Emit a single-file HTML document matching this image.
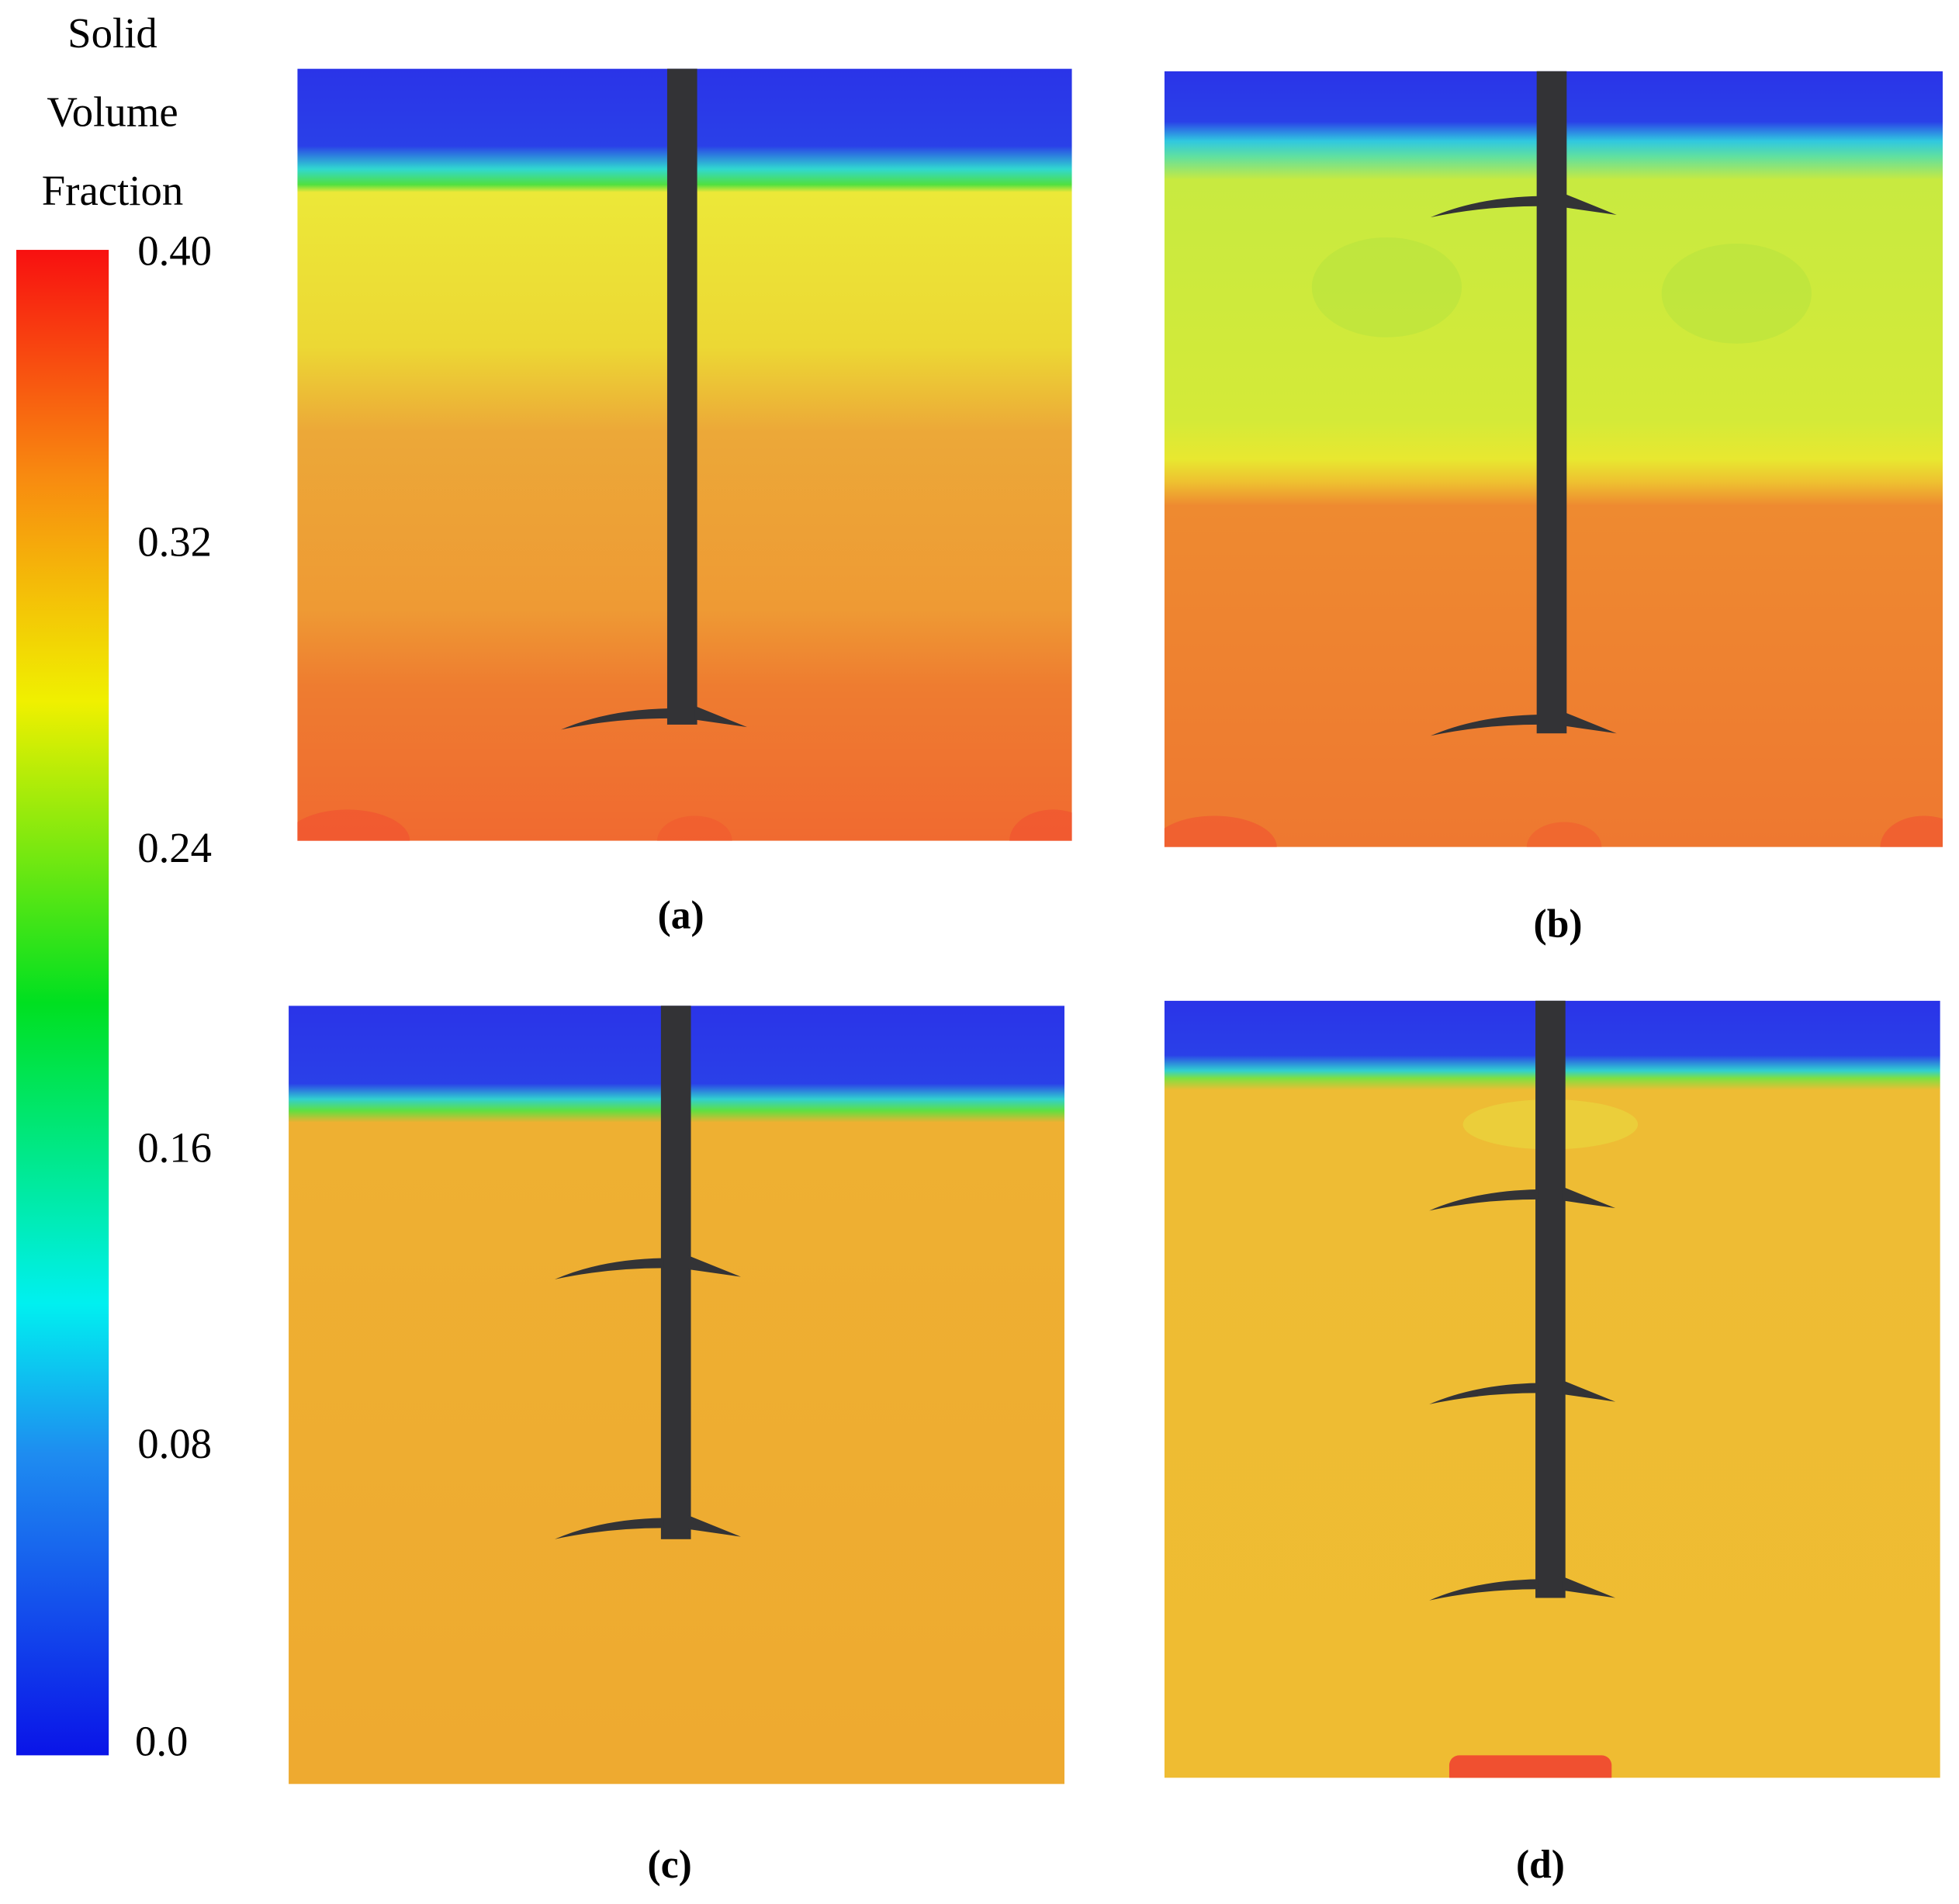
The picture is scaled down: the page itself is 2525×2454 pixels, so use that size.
<!DOCTYPE html>
<html><head><meta charset="utf-8"><style>
html,body{margin:0;padding:0;background:#fff}
svg{display:block}
text{font-family:"Liberation Serif",serif}
</style></head><body>
<svg id="fig" width="2525" height="2454" viewBox="0 0 1568 1524" xmlns="http://www.w3.org/2000/svg">
<defs>
<linearGradient id="cbar" x1="0" y1="1" x2="0" y2="0">
<stop offset="0" stop-color="#0a14e8"/><stop offset="0.2" stop-color="#1e8cf0"/><stop offset="0.3" stop-color="#00f0f0"/>
<stop offset="0.5" stop-color="#00e020"/><stop offset="0.7" stop-color="#f0f000"/><stop offset="0.85" stop-color="#f88a10"/><stop offset="1" stop-color="#f81010"/>
</linearGradient>
<linearGradient id="ga" x1="0" y1="0" x2="0" y2="1">
<stop offset="0" stop-color="#2a34e8"/><stop offset="0.1" stop-color="#2a40e8"/><stop offset="0.13" stop-color="#30d8d0"/><stop offset="0.15" stop-color="#50e040"/>
<stop offset="0.16" stop-color="#ece838"/><stop offset="0.36" stop-color="#ecd834"/><stop offset="0.47" stop-color="#eca838"/><stop offset="0.7" stop-color="#ee9a34"/><stop offset="0.8" stop-color="#ee7c30"/><stop offset="1" stop-color="#f06a30"/>
</linearGradient>
<linearGradient id="gb" x1="0" y1="0" x2="0" y2="1">
<stop offset="0" stop-color="#2a34e8"/><stop offset="0.065" stop-color="#2a40e8"/><stop offset="0.09" stop-color="#30c8e0"/><stop offset="0.11" stop-color="#60e0a0"/>
<stop offset="0.14" stop-color="#c8ea40"/><stop offset="0.45" stop-color="#d4ea38"/><stop offset="0.5" stop-color="#e8e830"/><stop offset="0.53" stop-color="#eec030"/><stop offset="0.56" stop-color="#ee8a30"/><stop offset="1" stop-color="#ee7830"/>
</linearGradient>
<linearGradient id="gc" x1="0" y1="0" x2="0" y2="1">
<stop offset="0" stop-color="#2a34e8"/><stop offset="0.1" stop-color="#2a40e8"/><stop offset="0.12" stop-color="#30d0d0"/><stop offset="0.135" stop-color="#60e040"/>
<stop offset="0.15" stop-color="#eeb032"/><stop offset="1" stop-color="#eeaa30"/>
</linearGradient>
<linearGradient id="gd" x1="0" y1="0" x2="0" y2="1">
<stop offset="0" stop-color="#2a34e8"/><stop offset="0.07" stop-color="#2a40e8"/><stop offset="0.09" stop-color="#30d0d0"/><stop offset="0.1" stop-color="#80e040"/>
<stop offset="0.115" stop-color="#eebc34"/><stop offset="1" stop-color="#efbc32"/>
</linearGradient>
</defs>
<g id="colorbar">
<rect x="13" y="200" width="74" height="1205" fill="url(#cbar)"/>
<text x="90" y="38" font-size="34" text-anchor="middle">Solid</text>
<text x="90" y="101" font-size="34" text-anchor="middle">Volume</text>
<text x="90" y="164" font-size="34" text-anchor="middle">Fraction</text>
<g id="ticks"></g>
</g>
<g id="panels"></g>
</svg>
<script>
const tickValues=[0.40,0.32,0.24,0.16,0.08,0.0];
const tickLabels=["0.40","0.32","0.24","0.16","0.08","0.0"];
const tickYs=[200,433,678,918,1155,1393];
const panelNames=["a","b","c","d"];
const impellerCounts=[1,2,2,3];
const NS="http://www.w3.org/2000/svg";
function mk(t,a,p){const e=document.createElementNS(NS,t);for(const k in a)e.setAttribute(k,a[k]);p.appendChild(e);return e;}
const tg=document.getElementById('ticks');
tickLabels.forEach((l,i)=>{const t=mk('text',{x:tickValues[i]>0?110:108,y:tickYs[i]+12,'font-size':34},tg);t.textContent=l;

});
const panels=[
 {id:"a",x:238,y:55,w:620,h:618,g:"ga",cx:546,sb:580,blades:[580],lx:545,ly:743},
 {id:"b",x:932,y:57,w:623,h:621,g:"gb",cx:1242,sb:587,blades:[170,585],lx:1247,ly:750},
 {id:"c",x:231,y:805,w:621,h:623,g:"gc",cx:541,sb:1232,blades:[1020,1228],lx:536,ly:1503},
 {id:"d",x:932,y:801,w:621,h:622,g:"gd",cx:1241,sb:1279,blades:[965,1120,1277],lx:1233,ly:1503}
];
const defs=document.querySelector('defs');
const pg=document.getElementById('panels');
panels.forEach(p=>{
 const cp=mk('clipPath',{id:'clip'+p.id},defs);
 mk('rect',{x:p.x,y:p.y,width:p.w,height:p.h},cp);
 const g=mk('g',{},pg);
 
 
 const f=mk('g',{'clip-path':'url(#clip'+p.id+')'},g);
 const r=mk('rect',{x:p.x,y:p.y,width:p.w,height:p.h,fill:'url(#'+p.g+')'},f);
 
 
 if(p.id==="a"||p.id==="b"){
  mk('ellipse',{cx:p.x+40,cy:p.y+p.h,rx:50,ry:25,fill:'#f24a30',opacity:0.5},f);
  mk('ellipse',{cx:p.x+p.w-15,cy:p.y+p.h,rx:35,ry:25,fill:'#f24a30',opacity:0.5},f);
  mk('ellipse',{cx:p.cx+10,cy:p.y+p.h,rx:30,ry:20,fill:'#f25030',opacity:0.4},f);
 }
 if(p.id==="b"){
  mk('ellipse',{cx:1110,cy:230,rx:60,ry:40,fill:'#a8e040',opacity:0.35},f);
  mk('ellipse',{cx:1390,cy:235,rx:60,ry:40,fill:'#a8e040',opacity:0.35},f);
 }
 if(p.id==="d"){
  mk('rect',{x:1160,y:1405,width:130,height:25,rx:8,fill:'#f05030'},f);
  mk('ellipse',{cx:1241,cy:900,rx:70,ry:20,fill:'#e8e040',opacity:0.5},f);
 }
 const s=mk('rect',{x:p.cx-12,y:p.y,width:24,height:p.sb-p.y,fill:'#333336'},g);
 
 
 p.blades.forEach(by=>{
  const c=p.cx;
  const b=mk('path',{d:`M${c-97},${by+4} Q${c-60},${by-12} ${c-10},${by-13} L${c-10},${by-5} Q${c-55},${by-5} ${c-97},${by+4} Z M${c+10},${by-15} L${c+52},${by+2} L${c+10},${by-4} Z`,fill:'#333336'},g);
  
  
 });
 const t=mk('text',{x:p.lx,y:p.ly,'font-size':32,'font-weight':'bold','text-anchor':'middle'},g);
 t.textContent='('+p.id+')';
 
 
});
</script>
</body></html>
